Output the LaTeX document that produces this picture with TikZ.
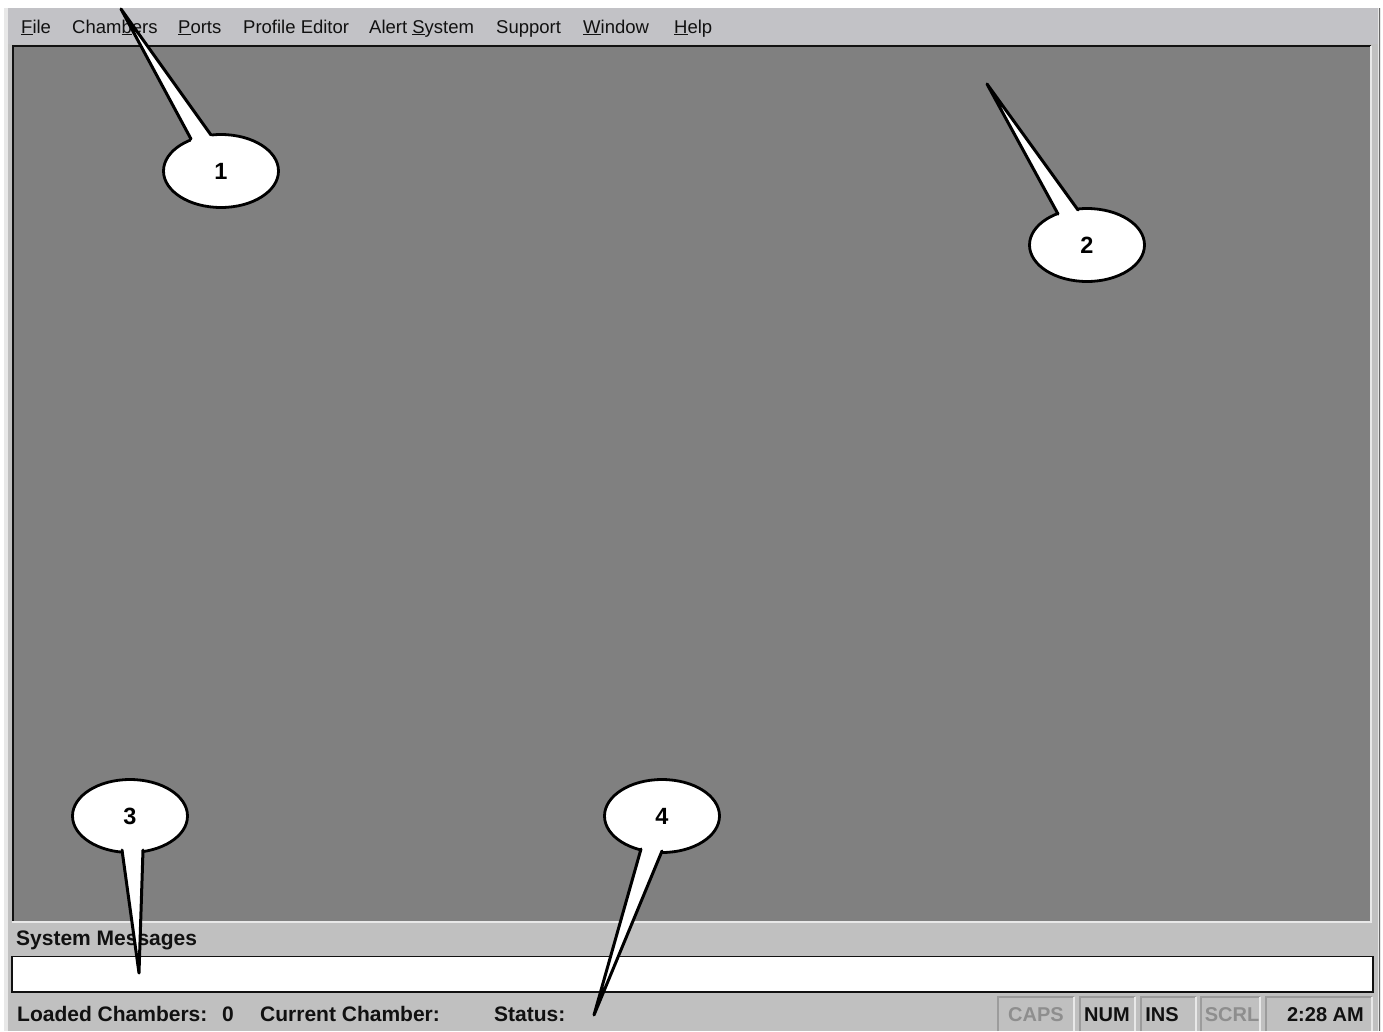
\documentclass[tikz,border=0pt]{standalone}
\usepackage{fontspec}
\setmainfont{Liberation Sans}
\usetikzlibrary{shapes.geometric}
\definecolor{winface}{HTML}{C0C0C0}
\definecolor{menuface}{HTML}{C2C2C6}
\definecolor{desk}{HTML}{808080}
\definecolor{inkdark}{HTML}{111111}
\definecolor{cellgrey}{HTML}{8E8E8E}
\definecolor{cellline}{HTML}{9C9C9C}
\definecolor{edgelight}{HTML}{E8E8E8}
\tikzset{
  menuitem/.style={anchor=base west,inner sep=0pt,text=inkdark,font=\fontsize{18.5}{20}\selectfont},
  statustext/.style={anchor=base west,inner sep=0pt,text=inkdark,font=\fontsize{21}{22}\selectfont\bfseries},
  celltext/.style={anchor=base,inner sep=0pt,text=inkdark,font=\fontsize{20}{22}\selectfont\bfseries},
  celloff/.style={celltext,text=cellgrey},
  bubble/.style={ellipse,draw=black,fill=white,line width=2.8pt,minimum width=115pt,minimum height=73pt,inner sep=0pt,font=\fontsize{23.5}{25}\selectfont\bfseries},
  wedgefill/.style={fill=white},
  wedgeline/.style={draw=black,line width=3pt,line join=round,line cap=round},
  sunkdark/.style={draw=cellline,line width=1.6pt},
  sunklight/.style={draw=edgelight,line width=1.6pt}
}
\newcommand{\cellframe}[4]{%
  \draw[sunkdark] (#1,#4) -- (#1,#3) -- (#2,#3);
  \draw[sunklight] (#2,#3) -- (#2,#4);
}
\begin{document}
\begin{tikzpicture}[x=1pt,y=-1pt]
\useasboundingbox (0,0) rectangle (1383,1031);
\fill[white] (0,0) rectangle (1383,1031);
% window
\fill[edgelight] (4,8) rectangle (1381,1031);
\fill[winface] (8,8) rectangle (1378,1031);
\fill[menuface] (8,8) rectangle (1378,44);
\draw[black!60,line width=1.5pt] (1379.5,8) -- (1379.5,1031);
% MDI area
\fill[desk] (13,46) rectangle (1370,921);
\draw[inkdark,line width=2pt] (13,921) -- (13,46) -- (1371,46);
\draw[edgelight,line width=2pt] (12,922) -- (1371,922) -- (1371,46);
% message box
\draw[fill=white,draw=inkdark,line width=1.8pt] (12,956.5) rectangle (1373,992);
% status cells
\cellframe{998}{1074}{997}{1031}
\cellframe{1080}{1135}{997}{1031}
\cellframe{1141}{1196}{997}{1031}
\cellframe{1201}{1260}{997}{1031}
\cellframe{1266}{1372}{997}{1031}
% menu
\node[menuitem] (mfile) at (21,33) {\underline{F}ile};
\node[menuitem] (mchambers) at (72,33) {Cham\underline{b}ers};
\node[menuitem] (mports) at (178,33) {\underline{P}orts};
\node[menuitem] (mprofile) at (243,33) {Profile Editor};
\node[menuitem] (malert) at (369,33) {Alert \underline{S}ystem};
\node[menuitem] (msupport) at (496,33) {Support};
\node[menuitem] (mwindow) at (583,33) {\underline{W}indow};
\node[menuitem] (mhelp) at (674,33) {\underline{H}elp};
% bottom text
\node[statustext] (sysmsg) at (16,945) {System Messages};
\node[statustext] (loaded) at (17,1021) {Loaded Chambers:};
\node[statustext] (zero) at (222,1021) {0};
\node[statustext] (current) at (260,1021) {Current Chamber:};
\node[statustext] (status) at (494,1021) {Status:};
\node[celloff] (caps) at (1036,1021) {CAPS};
\node[celltext] (num) at (1107,1021) {NUM};
\node[celltext] (ins) at (1162,1021) {INS};
\node[celloff] (scrl) at (1232,1021) {SCRL};
\node[celltext,anchor=base east] (clock) at (1364,1021) {2:28 AM};
% callouts
\node[bubble] (c1) at (221,171) {1};
\coordinate (t1) at (121,9);
\coordinate (a1) at (191,139);
\coordinate (b1) at (211,135);
\fill[wedgefill] (a1) -- (t1) -- (b1) -- ++(4,6) -- ++(-24,3) -- cycle;
\draw[wedgeline] (a1) -- (t1) -- (b1);

\node[bubble] (c2) at (1087,245) {2};
\coordinate (t2) at (987,84);
\coordinate (a2) at (1058,214);
\coordinate (b2) at (1078,210);
\fill[wedgefill] (a2) -- (t2) -- (b2) -- ++(4,6) -- ++(-24,3) -- cycle;
\draw[wedgeline] (a2) -- (t2) -- (b2);

\node[bubble] (c3) at (130,816) {3};
\coordinate (t3) at (139,973);
\coordinate (a3) at (122,850);
\coordinate (b3) at (143,850);
\fill[wedgefill] (a3) -- (t3) -- (b3) -- ++(2,-6) -- ++(-24,0) -- cycle;
\draw[wedgeline] (a3) -- (t3) -- (b3);

\node[bubble] (c4) at (662,816) {4};
\coordinate (t4) at (594,1015);
\coordinate (a4) at (641,849);
\coordinate (b4) at (662,851);
\fill[wedgefill] (a4) -- (t4) -- (b4) -- ++(2,-6) -- ++(-24,-1) -- cycle;
\draw[wedgeline] (a4) -- (t4) -- (b4);
\end{tikzpicture}
\end{document}
